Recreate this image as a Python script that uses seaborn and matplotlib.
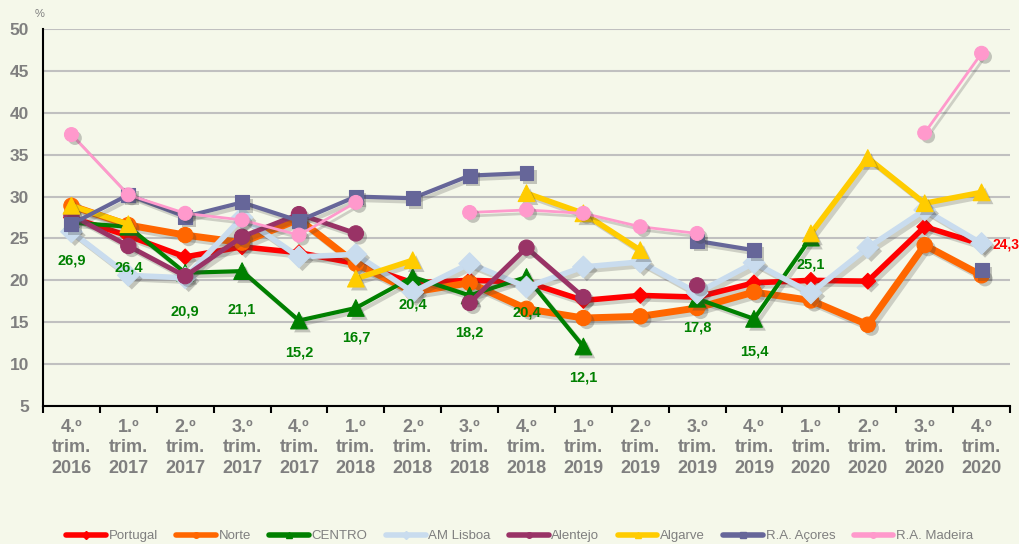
import numpy as np
import pandas as pd
import matplotlib
matplotlib.use("Agg")
import matplotlib.pyplot as plt
import matplotlib.patheffects as pe
from matplotlib.lines import Line2D
import seaborn as sns

NA = np.nan

quarters = ["4.º", "1.º", "2.º", "3.º", "4.º", "1.º", "2.º", "3.º", "4.º",
            "1.º", "2.º", "3.º", "4.º", "1.º", "2.º", "3.º", "4.º"]
years = ["2016", "2017", "2017", "2017", "2017", "2018", "2018", "2018", "2018",
         "2019", "2019", "2019", "2019", "2020", "2020", "2020", "2020"]
tick_labels = [f"{q}\ntrim.\n{y}" for q, y in zip(quarters, years)]

portugal = [27.5, 25.3, 22.8, 24.0, 23.3, 22.0, 19.7, 20.0, 19.8, 17.6, 18.2,
            18.0, 19.7, 20.0, 19.9, 26.4, 24.3]
norte = [28.9, 26.6, 25.4, 24.5, 27.3, 22.0, 18.6, 19.7, 16.6, 15.5, 15.7,
         16.7, 18.6, 17.6, 14.7, 24.2, 20.6]
centro = [26.9, 26.4, 20.9, 21.1, 15.2, 16.7, 20.4, 18.2, 20.4, 12.1, NA,
          17.8, 15.4, 25.1, NA, NA, NA]
lisboa = [25.8, 20.6, 20.3, 27.5, 22.8, 23.1, 18.6, 22.0, 19.2, 21.6, 22.2,
          18.5, 22.1, 18.5, 23.9, 28.4, 24.4]
alentejo = [27.8, 24.1, 20.5, 25.2, 27.9, 25.6, NA, 17.3, 23.9, 18.0, NA,
            19.4, NA, NA, NA, NA, NA]
algarve = [28.9, 26.7, NA, NA, NA, 20.2, 22.4, NA, 30.4, 28.0, 23.6,
           NA, NA, 25.6, 34.6, 29.2, 30.5]
acores = [26.7, 30.2, 27.6, 29.3, 27.1, 30.0, 29.8, 32.5, 32.8, NA, NA,
          24.7, 23.6, NA, NA, NA, 21.2]
madeira = [37.4, 30.2, 28.0, 27.2, 25.4, 29.3, NA, 28.1, 28.4, 28.0, 26.4,
           25.6, NA, NA, NA, 37.6, 47.1]

series = [
    # name, values, colour, line width, marker, marker size
    ("Portugal", portugal, "#ff0000", 4.0, "D", 8),
    ("Norte", norte, "#ff6600", 5.0, "o", 11),
    ("CENTRO", centro, "#008000", 3.0, "^", 12),
    ("AM Lisboa", lisboa, "#c9dcee", 4.0, "D", 11),
    ("Alentejo", alentejo, "#993366", 3.5, "o", 11),
    ("Algarve", algarve, "#ffcc00", 4.0, "^", 12),
    ("R.A. Açores", acores, "#666699", 3.0, "s", 10),
    ("R.A. Madeira", madeira, "#ff99cc", 2.0, "o", 10),
]

# vertical offsets (px) of the CENTRO value labels below their points
centro_label_offsets = [38, 41, 39, 38, 32, 30, 28, 37, 36, 31, 0, 29, 33, 27]

BG = "#f5f8ea"
GREY = "#7f7f7f"
FONT = ["Liberation Sans", "DejaVu Sans"]

sns.set_theme(style="white")
plt.rcParams["font.family"] = FONT


def to_segments(values):
    """Split a series at its gaps so each unbroken run is drawn as one unit."""
    rows, seg, inside = [], 0, False
    for i, v in enumerate(values):
        if v is None or np.isnan(v):
            inside = False
            continue
        if not inside:
            seg += 1
        inside = True
        rows.append((i, v, seg))
    return pd.DataFrame(rows, columns=["pos", "value", "seg"])


fig = plt.figure(figsize=(10.19, 5.44), dpi=100, facecolor=BG)
ax = fig.add_axes([43 / 1019, 1 - 406 / 544, 967 / 1019, 377 / 544])
ax.set_facecolor(BG)

line_shadow = [pe.SimpleLineShadow(offset=(2.5, -2.5), shadow_color="#404040", alpha=0.22),
               pe.Normal()]
marker_shadow = [pe.SimplePatchShadow(offset=(2.5, -2.5), shadow_rgbFace="#404040", alpha=0.28),
                 pe.Normal()]

for z, (name, vals, color, lw, marker, ms) in enumerate(series):
    df = to_segments(vals)
    n0 = len(ax.lines)
    c0 = len(ax.collections)
    sns.lineplot(data=df, x="pos", y="value", units="seg", estimator=None,
                 color=color, linewidth=lw, legend=False, ax=ax)
    for ln in ax.lines[n0:]:
        ln.set_zorder(3 + z * 0.1)
        ln.set_path_effects(line_shadow)
        ln.set_solid_joinstyle("miter")
    sns.scatterplot(data=df, x="pos", y="value", marker=marker, s=ms ** 2,
                    color=color, edgecolor=color, linewidth=0.8, legend=False, ax=ax)
    for coll in ax.collections[c0:]:
        coll.set_zorder(3.05 + z * 0.1)
        coll.set_path_effects(marker_shadow)

# value labels for CENTRO
for i, v in enumerate(centro):
    if np.isnan(v):
        continue
    ax.annotate(f"{v:.1f}".replace(".", ","), (i, v),
                xytext=(0, -centro_label_offsets[i] * 0.72),
                textcoords="offset points", ha="center", va="center",
                color="#008000", fontsize=10.5, fontweight="bold", zorder=6)

# final Portugal value
ax.annotate(f"{portugal[-1]:.1f}".replace(".", ","), (16, portugal[-1]), xytext=(8, 0),
            textcoords="offset points", ha="left", va="center",
            color="#ff0000", fontsize=10, fontweight="bold",
            zorder=6, annotation_clip=False)

ax.set_xlim(-0.5, 16.5)
ax.set_ylim(5, 50)
ax.set_yticks(range(5, 51, 5))
ax.set_xticks(range(17))
ax.set_xticklabels(tick_labels, fontsize=13, fontweight="bold",
                   color=GREY, linespacing=1.3)
ax.set_xticks(np.arange(-0.5, 17, 1), minor=True)
ax.tick_params(axis="x", which="major", length=0, pad=9)
ax.tick_params(axis="x", which="minor", length=5, width=1.5, color="black",
               direction="out", bottom=True)
ax.tick_params(axis="y", length=0, pad=10, labelsize=12.5, labelcolor=GREY)
for lab in ax.get_yticklabels():
    lab.set_fontweight("bold")
ax.set_xlabel("")
ax.set_ylabel("")
ax.grid(axis="y", color="#c0c0c0", linewidth=1.5)
ax.set_axisbelow(True)
for side in ("top", "right"):
    ax.spines[side].set_visible(False)
for side in ("left", "bottom"):
    ax.spines[side].set_color("black")
    ax.spines[side].set_linewidth(1.5)

fig.text(40 / 1019, 1 - 14 / 544, "%", fontsize=8, color=GREY, ha="center", va="center")

handles = [Line2D([0], [0], color=c, lw=4, marker=m, markersize=4, markeredgecolor=c)
           for _, _, c, _, m, _ in series]
fig.legend(handles, [s[0] for s in series], loc="center",
           bbox_to_anchor=(0.51, 1 - 536 / 544),
           ncol=8, frameon=False, handlelength=3.0, handletextpad=0.2, columnspacing=1.4,
           prop={"size": 9.5}, labelcolor=GREY)

fig.savefig("out.png", dpi=100, facecolor=BG)
